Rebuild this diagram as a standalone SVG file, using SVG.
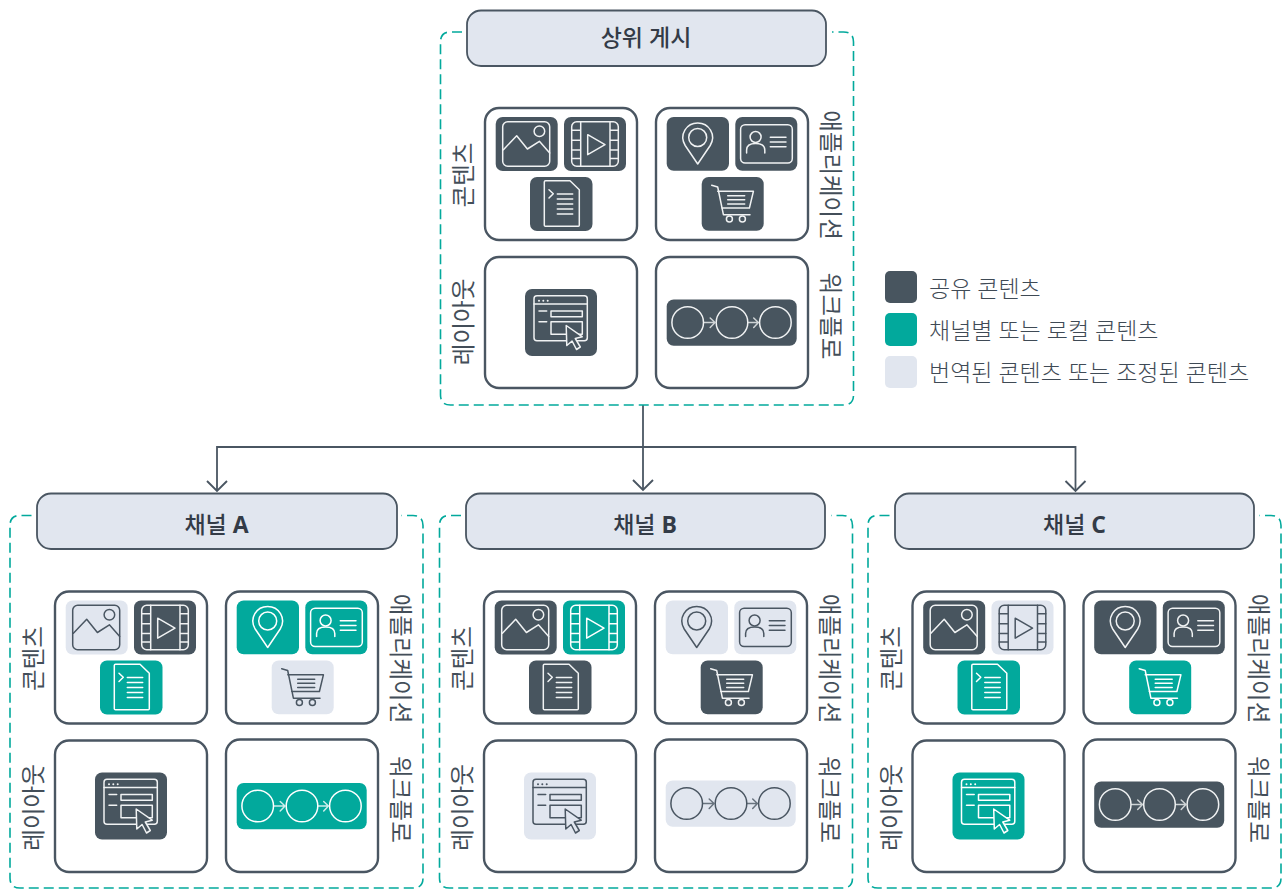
<svg xmlns="http://www.w3.org/2000/svg" width="1284" height="889" viewBox="0 0 1284 889">
<style>
text{font-family:"Open Sans","Noto Sans CJK KR",sans-serif;fill:#4a5560}
.hd{font-size:23px;font-weight:500;fill:#333b47;text-anchor:middle}
.hd tspan{font-weight:700}
.lb{font-size:23.500px;font-weight:400;text-anchor:middle;fill:#434e59}
.lg{font-size:23px;font-weight:300;fill:#3f4a55}
.head{fill:#e1e6ef;stroke:#4a5662;stroke-width:1.8}
.panel{fill:#fff;stroke:#4a5662;stroke-width:2.4}
.frame{fill:none;stroke:#02a99c;stroke-width:1.6;stroke-dasharray:10 5}
.conn{fill:none;stroke:#4a5662;stroke-width:1.8}
.d{--t:#48555f;color:#f0f2f3}
.g{--t:#02a99c;color:#fff}
.l{--t:#e1e6ef;color:#4a5662}
.i{fill:none;stroke:currentColor;stroke-width:1.5;stroke-linejoin:round;stroke-linecap:round}
.tile{fill:var(--t)}
.cur{fill:var(--t);stroke:currentColor;stroke-width:1.5;stroke-linejoin:round}
</style>
<defs>
<marker id="ah" markerUnits="userSpaceOnUse" markerWidth="24" markerHeight="24" viewBox="-12 -12 24 24" refX="0" refY="0" orient="auto"><path d="M-10-10 0 0-10 10" fill="none" stroke="#4a5662" stroke-width="1.9"/></marker>
<g id="image"><rect class="tile" width="62" height="54" rx="7"/><g class="i"><rect x="7" y="4.700" width="47" height="44.500" rx="5"/><circle cx="43.700" cy="14.300" r="5.300"/><path d="M7.700 32.700 21 18.700 31.700 32 43.700 24.300 54 36"/></g></g>
<g id="video"><rect class="tile" width="62" height="54" rx="7"/><g class="i"><rect x="7.700" y="4.700" width="46.600" height="44.600" rx="5"/><path d="M16.700 4.700V49.300M46 4.700V49.300M7.700 13.300h9M7.700 23.300h9M7.700 33h9M7.700 41.500h9M46 13.300h8.300M46 23.300h8.300M46 33h8.300M46 41.500h8.300M23.700 17.700 41 27.700 23.700 37.700Z"/></g></g>
<g id="doc"><rect class="tile" width="62.500" height="54" rx="7"/><g class="i"><path d="M15.500 3.700H40L49.300 12.700V48.300Q49.300 49.300 48.300 49.300H15.500Q14.300 49.300 14.300 48.300V5Q14.300 3.700 15.500 3.700ZM19 12.700 23.300 16.700 19 21M27.300 17H42.700M27.300 22H42.700M27.300 27H42.700M27.300 32H42.700M27.300 37H42.700"/></g></g>
<g id="pin"><rect class="tile" width="62.300" height="53.700" rx="7"/><g class="i"><path d="M31 47 18.500 28.500C12 17.500 20 6 31 6S50 17.500 43.500 28.500Z"/><circle cx="31" cy="20.500" r="9"/></g></g>
<g id="card"><rect class="tile" width="62" height="53.700" rx="7"/><g class="i"><rect x="5.300" y="7.700" width="51.700" height="38.300" rx="4.500"/><circle cx="20.300" cy="20" r="5.500"/><path d="M11.300 36V33C11.300 28.500 15 26.500 20.300 26.500S29.500 28.500 29.500 33V36M35 20.300H50.700M35 25H50.700M35 29.700H50.700"/></g></g>
<g id="cart"><rect class="tile" width="62" height="53.700" rx="7"/><g class="i"><path d="M10 8.300 16 10 21.700 37.700H48.300M16 14.300H51.700L47.700 31H20M26 18.700H43M26 22.700H43M26 27H43"/><circle cx="27.700" cy="42" r="3"/><circle cx="40.700" cy="42" r="3"/></g></g>
<g id="layout"><rect class="tile" width="72" height="67" rx="7"/><g class="i"><rect x="9" y="6.700" width="53.300" height="45" rx="3"/><path d="M9 15H62.300M14 22H21.700M14 32.700H21.700"/><rect x="26" y="22" width="31.300" height="5.700"/><rect x="26" y="32.700" width="31.300" height="12.600"/><path d="M14 11.700h.01M18.300 11.700h.01M22.700 11.700h.01" stroke-width="2"/></g><path class="cur" d="M41.200 36.500 57.200 47.700 50.300 49.500 55.300 58 51.500 60.500 47.100 52 41.800 56.500Z"/></g>
<g id="flow"><rect class="tile" width="130" height="46.300" rx="7"/><g class="i"><circle cx="21" cy="23" r="15.800"/><circle cx="65.300" cy="23" r="15.800"/><circle cx="108.700" cy="23" r="15.800"/></g><g class="i" stroke-width="1" opacity=".8"><path d="M37.300 23H48.300M43.500 18.500 48.300 23 43.500 28M81.700 23H91.700M87 18.500 91.700 23 87 28"/></g></g>
</defs>

<g id="connectors">
<path class="conn" d="M643 405V490" marker-end="url(#ah)"/>
<path class="conn" d="M643 447H217V491" marker-end="url(#ah)"/>
<path class="conn" d="M643 447H1075.500V491" marker-end="url(#ah)"/>
</g>

<g id="top">
<path class="frame" d="M462 32H450.500Q440.500 32 440.500 42V395Q440.500 405 450.500 405H843.500Q853.500 405 853.500 395V42Q853.500 32 843.500 32H832"/>
<g id="top-head"><rect class="head" x="467" y="10.500" width="359" height="55.500" rx="14"/><text class="hd" x="646" y="45.500">상위 게시</text></g>
<g id="top-content"><rect class="panel" x="485" y="108" width="152" height="132" rx="14"/><text class="lb" transform="translate(472 175) rotate(-90)">콘텐츠</text>
<use href="#image" class="d" x="495.700" y="117"/><use href="#video" class="d" x="564" y="117"/><use href="#doc" class="d" x="530" y="177"/></g>
<g id="top-app"><rect class="panel" x="656" y="108" width="152" height="132" rx="14"/><text class="lb" transform="translate(822 175) rotate(90)">애플리케이션</text>
<use href="#pin" class="d" x="666.700" y="117"/><use href="#card" class="d" x="735.300" y="117"/><use href="#cart" class="d" x="701.700" y="177"/></g>
<g id="top-layout"><rect class="panel" x="485" y="257" width="152" height="131" rx="14"/><text class="lb" transform="translate(472 322) rotate(-90)">레이아웃</text>
<use href="#layout" class="d" x="525" y="289"/></g>
<g id="top-flow"><rect class="panel" x="656" y="257" width="152" height="131" rx="14"/><text class="lb" transform="translate(822 316) rotate(90)">워크플로</text>
<use href="#flow" class="d" x="666.700" y="299.500"/></g>
</g>

<g id="legend">
<g id="legend-shared"><rect x="885" y="271" width="32" height="32" rx="5" fill="#48555f"/><text class="lg" x="929" y="296.500">공유 콘텐츠</text></g>
<g id="legend-local"><rect x="885" y="313" width="32" height="33" rx="5" fill="#02a99c"/><text class="lg" x="929" y="339">채널별 또는 로컬 콘텐츠</text></g>
<g id="legend-trans"><rect x="885" y="356" width="32" height="32" rx="5" fill="#e1e6ef"/><text class="lg" x="929" y="381">번역된 콘텐츠 또는 조정된 콘텐츠</text></g>
</g>

<g id="channel-a" transform="translate(-430 483.500)">
<path class="frame" d="M461.500 32H450Q440 32 440 42V394.500Q440 404.500 450 404.500H843Q853 404.500 853 394.500V42Q853 32 843 32H831.500"/>
<g id="a-head"><rect class="head" x="467" y="10" width="360" height="55.500" rx="14"/><text class="hd" x="646.500" y="49">채널 <tspan>A</tspan></text></g>
<g id="a-content"><rect class="panel" x="485" y="108" width="152" height="132" rx="14"/><text class="lb" transform="translate(472 175) rotate(-90)">콘텐츠</text>
<use href="#image" class="l" x="495.700" y="117"/><use href="#video" class="d" x="564" y="117"/><use href="#doc" class="g" x="530" y="177"/></g>
<g id="a-app"><rect class="panel" x="656" y="108" width="152" height="132" rx="14"/><text class="lb" transform="translate(822 175) rotate(90)">애플리케이션</text>
<use href="#pin" class="g" x="666.700" y="117"/><use href="#card" class="g" x="735.300" y="117"/><use href="#cart" class="l" x="701.700" y="177"/></g>
<g id="a-layout"><rect class="panel" x="485" y="257" width="152" height="131.500" rx="14"/><text class="lb" transform="translate(472 324) rotate(-90)">레이아웃</text>
<use href="#layout" class="d" x="525" y="289"/></g>
<g id="a-flow"><rect class="panel" x="656" y="256" width="152" height="132.500" rx="14"/><text class="lb" transform="translate(822 316) rotate(90)">워크플로</text>
<use href="#flow" class="g" x="666.700" y="299.500"/></g>
</g>

<g id="channel-b" transform="translate(-1 483.500)">
<path class="frame" d="M462 32H450.500Q440.500 32 440.500 42V394.500Q440.500 404.500 450.500 404.500H843.500Q853.500 404.500 853.500 394.500V42Q853.500 32 843.500 32H832"/>
<g id="b-head"><rect class="head" x="467" y="10" width="359" height="55.500" rx="14"/><text class="hd" x="646" y="49">채널 <tspan>B</tspan></text></g>
<g id="b-content"><rect class="panel" x="485" y="108" width="152" height="132" rx="14"/><text class="lb" transform="translate(472 175) rotate(-90)">콘텐츠</text>
<use href="#image" class="d" x="495.700" y="117"/><use href="#video" class="g" x="564" y="117"/><use href="#doc" class="d" x="530" y="177"/></g>
<g id="b-app"><rect class="panel" x="656" y="108" width="152" height="132" rx="14"/><text class="lb" transform="translate(822 175) rotate(90)">애플리케이션</text>
<use href="#pin" class="l" x="666.700" y="117"/><use href="#card" class="l" x="735.300" y="117"/><use href="#cart" class="d" x="701.700" y="177"/></g>
<g id="b-layout"><rect class="panel" x="485" y="257" width="152" height="131.500" rx="14"/><text class="lb" transform="translate(472 324) rotate(-90)">레이아웃</text>
<use href="#layout" class="l" x="525" y="289"/></g>
<g id="b-flow"><rect class="panel" x="656" y="256" width="152" height="132.500" rx="14"/><text class="lb" transform="translate(822 316) rotate(90)">워크플로</text>
<use href="#flow" class="l" x="666.700" y="297"/></g>
</g>

<g id="channel-c" transform="translate(427.500 483.500)">
<path class="frame" d="M462 32H450.500Q440.500 32 440.500 42V394.500Q440.500 404.500 450.500 404.500H843.500Q853.500 404.500 853.500 394.500V42Q853.500 32 843.500 32H832"/>
<g id="c-head"><rect class="head" x="467.500" y="10" width="359" height="55.500" rx="14"/><text class="hd" x="647" y="49">채널 <tspan>C</tspan></text></g>
<g id="c-content"><rect class="panel" x="485" y="108" width="152" height="132" rx="14"/><text class="lb" transform="translate(472 175) rotate(-90)">콘텐츠</text>
<use href="#image" class="d" x="495.700" y="117"/><use href="#video" class="l" x="564" y="117"/><use href="#doc" class="g" x="530" y="177"/></g>
<g id="c-app"><rect class="panel" x="656" y="108" width="152" height="132" rx="14"/><text class="lb" transform="translate(822 175) rotate(90)">애플리케이션</text>
<use href="#pin" class="d" x="666.700" y="117"/><use href="#card" class="d" x="735.300" y="117"/><use href="#cart" class="g" x="701.700" y="177"/></g>
<g id="c-layout"><rect class="panel" x="485" y="257" width="152" height="131.500" rx="14"/><text class="lb" transform="translate(472 324) rotate(-90)">레이아웃</text>
<use href="#layout" class="g" x="525" y="289"/></g>
<g id="c-flow"><rect class="panel" x="656" y="256" width="152" height="132.500" rx="14"/><text class="lb" transform="translate(822 316) rotate(90)">워크플로</text>
<use href="#flow" class="d" x="666.700" y="298"/></g>
</g>
</svg>
